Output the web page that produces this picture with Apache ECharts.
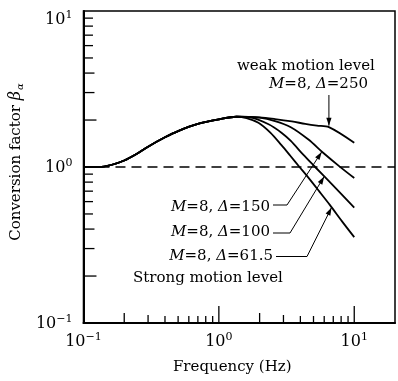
<!DOCTYPE html>
<html>
<head>
<meta charset="utf-8">
<script src="https://cdn.jsdelivr.net/npm/echarts@6/dist/echarts.min.js"></script>
<style>
  html, body { margin: 0; padding: 0; background: #fff; }
  #chart { width: 398px; height: 381px; }
</style>
</head>
<body>
<div id="chart"></div>
<script>
// Conversion factor versus frequency, log-log
const FONT = 'DejaVu Serif';
const INK = '#000';

// [frequency (Hz), conversion factor] — shared rising branch up to the peak
const rising = [[0.1, 1.0], [0.13, 1.0], [0.16, 1.03], [0.2, 1.1], [0.25, 1.22], [0.3, 1.35],
                [0.4, 1.55], [0.5, 1.7], [0.7, 1.89], [1.0, 2.02], [1.35, 2.1]];
// branches after the peak
const weak250  = [[2.0, 2.08], [2.6, 2.03], [3.46, 1.96], [4.34, 1.89], [5.3, 1.84], [6.5, 1.8], [10, 1.43]];
const delta150 = [[2.0, 2.07], [2.6, 1.97], [3.4, 1.8], [4.59, 1.5], [5.92, 1.23], [7.77, 1.01], [10, 0.85]];
const delta100 = [[1.7, 2.08], [2.33, 1.88], [2.9, 1.66], [3.4, 1.47], [4.2, 1.2], [5.14, 1.0], [6.8, 0.78], [10, 0.55]];
const delta615 = [[1.6, 2.06], [1.96, 1.92], [2.4, 1.66], [2.9, 1.38], [3.37, 1.18], [3.94, 1.0], [4.46, 0.88],
                  [5.5, 0.7], [6.62, 0.57], [8.1, 0.45], [10, 0.355]];
// unit reference level
const unitLine = [[0.1, 1], [20, 1]];

// exponent labels of the decades
const exponentText = { '-1': '\u22121', '0': '0', '1': '1' };

// annotation anchor points on the curves
const tip250 = [6.5, 1.8];
const tip150 = [5.75, 1.25];
const tip100 = [6.0, 0.87];
const tip615 = [6.8, 0.55];

function decadeLabel(v, top) {
  const e = Math.round(Math.log10(v));
  if (Math.abs(Math.log10(v) - e) > 1e-6 || exponentText[e] === undefined) return '';
  const s = '{b|10}{s|' + exponentText[e] + '}';
  return top ? '{gap|}\n' + s : s;
}

// minor/major tick marks at 2..9 x 10^k, drawn inward
function buildTicks() {
  const xt = [], yt = [];
  [0.1, 1].forEach(d => {
    for (let m = 2; m <= 9; m++) {
      const v = +(m * d).toPrecision(3);
      xt.push([v, 0.1, m === 2 ? 10 : (m === 3 ? 8 : 7), 0]);
      yt.push([0.1, v, m === 2 ? 13 : (m <= 4 ? 11 : 9.5), 1]);
    }
  });
  xt.push([1, 0.1, 17, 0], [10, 0.1, 17, 0]);
  yt.push([0.1, 1, 10, 1]);
  return xt.concat(yt);
}

const labelRich = {
  b: { fontFamily: FONT, fontSize: 16, color: INK, verticalAlign: 'bottom', lineHeight: 18 },
  s: { fontFamily: FONT, fontSize: 11, color: INK, verticalAlign: 'top', lineHeight: 18 },
  gap: { fontSize: 4, lineHeight: 16 }
};

function curve(data) {
  return {
    type: 'line', data: data, showSymbol: false, smooth: 0.3, silent: true,
    lineStyle: { color: INK, width: 1.8 }, z: 3
  };
}

const chart = echarts.init(document.getElementById('chart'), null, { renderer: 'canvas' });

chart.setOption({
  animation: false,
  backgroundColor: '#fff',
  grid: { left: 83, right: 3, top: 9, bottom: 58, show: true, borderColor: INK, borderWidth: 1.5, backgroundColor: 'transparent' },
  xAxis: {
    type: 'log', logBase: 10, min: 0.1, max: 20,
    axisLine: { lineStyle: { color: INK, width: 2 } },
    axisTick: { show: false },
    splitLine: { show: false },
    axisLabel: { margin: 9, formatter: v => decadeLabel(v, false), rich: labelRich, showMaxLabel: false },
    name: 'Frequency (Hz)', nameLocation: 'middle', nameGap: 37,
    nameTextStyle: { fontFamily: FONT, fontSize: 15, color: INK, padding: [0, 14, 0, 0] }
  },
  yAxis: {
    type: 'log', logBase: 10, min: 0.1, max: 10,
    axisLine: { lineStyle: { color: INK, width: 2 } },
    axisTick: { show: false },
    splitLine: { show: false },
    axisLabel: { margin: 11, formatter: v => decadeLabel(v, Math.abs(v - 10) < 1e-6), rich: labelRich },
    name: 'Conversion factor {bi|\u03b2}{sub|\u03b1}', nameLocation: 'middle', nameGap: 58,
    nameTextStyle: {
      fontFamily: FONT, fontSize: 15, color: INK, padding: [0, 0, 0, 10],
      rich: {
        bi: { fontFamily: FONT, fontSize: 16, fontStyle: 'italic', color: INK },
        sub: { fontFamily: FONT, fontSize: 10, fontStyle: 'italic', color: INK, padding: [8, 0, 0, 1] }
      }
    }
  },
  series: [
    {
      type: 'line', data: unitLine, showSymbol: false, silent: true,
      lineStyle: { color: INK, width: 1.4, type: [10, 6] }, z: 2
    },
    curve(rising.concat(weak250)),
    curve(rising.concat(delta150)),
    curve(rising.concat(delta100)),
    curve(rising.concat(delta615)),
    {
      type: 'custom', data: buildTicks(), silent: true, clip: false, z: 4,
      encode: { x: 0, y: 1 },
      renderItem: function (params, api) {
        const p = api.coord([api.value(0), api.value(1)]);
        const len = api.value(2);
        const onX = api.value(3) === 0;
        return {
          type: 'line',
          shape: onX ? { x1: p[0], y1: p[1], x2: p[0], y2: p[1] - len }
                     : { x1: p[0], y1: p[1], x2: p[0] + len, y2: p[1] },
          style: { stroke: INK, lineWidth: 1.3 }
        };
      }
    }
  ]
});

// annotations: labels, leader lines and arrowheads
function arrowHead(tip, from, len, half) {
  const dx = tip[0] - from[0], dy = tip[1] - from[1];
  const d = Math.hypot(dx, dy), ux = dx / d, uy = dy / d;
  const bx = tip[0] - ux * len, by = tip[1] - uy * len;
  return {
    type: 'polygon', silent: true, z: 10,
    shape: { points: [tip, [bx - uy * half, by + ux * half], [bx + uy * half, by - ux * half]] },
    style: { fill: INK }
  };
}
function leader(points) {
  return { type: 'polyline', silent: true, z: 10, shape: { points: points }, style: { stroke: INK, lineWidth: 1, fill: null } };
}
const annRich = {
  n: { fontFamily: FONT, fontSize: 15, color: INK },
  i: { fontFamily: FONT, fontSize: 15, color: INK, fontStyle: 'italic' }
};
function label(text, x, y, align) {
  return {
    type: 'text', silent: true, z: 10,
    style: { text: text, x: x, y: y, align: align, verticalAlign: 'middle', rich: annRich,
             fontFamily: FONT, fontSize: 15, fill: INK }
  };
}
function px(pt) { return chart.convertToPixel({ gridIndex: 0 }, pt); }

const t250 = px(tip250), t150 = px(tip150), t100 = px(tip100), t615 = px(tip615);
t250[1] -= 1.5;
const s250 = [t250[0], 95];
const k150 = [287, 205], k100 = [290, 233], k615 = [307, 256.5];

chart.setOption({
  graphic: [
    label('{n|weak motion level}', 237, 66, 'left'),
    label('{i|M}{n|=8, }{i|\u0394}{n|=250}', 368, 84, 'right'),
    leader([s250, t250]),
    arrowHead(t250, s250, 8, 2.6),

    label('{i|M}{n|=8, }{i|\u0394}{n|=150}', 270, 207, 'right'),
    label('{i|M}{n|=8, }{i|\u0394}{n|=100}', 270, 232, 'right'),
    label('{i|M}{n|=8, }{i|\u0394}{n|=61.5}', 273, 256, 'right'),
    label('{n|Strong motion level}', 133, 278, 'left'),

    leader([[273, 205], k150, t150]),
    arrowHead(t150, k150, 8, 2.6),
    leader([[273, 233], k100, t100]),
    arrowHead(t100, k100, 8, 2.6),
    leader([[276, 256.5], k615, t615]),
    arrowHead(t615, k615, 8, 2.6)
  ]
});
</script>
</body>
</html>
